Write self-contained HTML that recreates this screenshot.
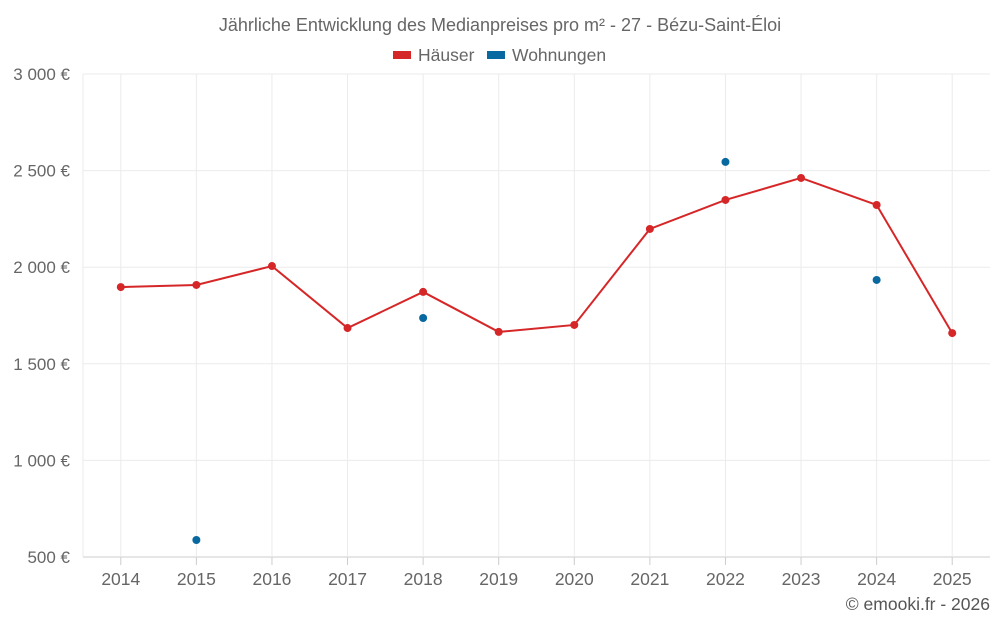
<!DOCTYPE html>
<html><head><meta charset="utf-8"><style>
body{margin:0;background:#fff;font-family:"Liberation Sans",sans-serif}
</style></head><body>
<svg id="c" width="1000" height="625" xmlns="http://www.w3.org/2000/svg"></svg>
<script>
const years=["2014","2015","2016","2017","2018","2019","2020","2021","2022","2023","2024","2025"];
const houses=[1897,1908,2006,1685,1872,1665,1701,2198,2348,2462,2322,1659];
const flats=[null,588,null,null,1737,null,null,null,2545,null,1934,null];
const yTicks=[500,1000,1500,2000,2500,3000];
const yLabels=["500 €","1 000 €","1 500 €","2 000 €","2 500 €","3 000 €"];
const svg=document.getElementById('c');
const NS="http://www.w3.org/2000/svg";
const L=83,R=990,T=74,B=557;
const bw=(R-L)/years.length;
const x=i=>L+(i+0.5)*bw;
const y=v=>B-(v-500)/2500*(B-T);
function mk(t,a,p){const e=document.createElementNS(NS,t);for(const k in a)e.setAttribute(k,a[k]);(p||svg).appendChild(e);return e;}
let g=mk('g',{});


yTicks.forEach((v,i)=>{
 mk('line',{x1:L,x2:R,y1:y(v),y2:y(v),stroke:i==0?'#ccc':'#ebebeb','stroke-width':1},g);
 const t=mk('text',{x:70,y:y(v)+6,'text-anchor':'end','font-size':17,fill:'#666'});
 t.textContent=yLabels[i];
 
 
});
mk('line',{x1:L,x2:L,y1:T,y2:B,stroke:'#ebebeb'},g);
years.forEach((yr,i)=>{
 mk('line',{x1:x(i),x2:x(i),y1:T,y2:B,stroke:'#ebebeb'},g);
 mk('line',{x1:x(i),x2:x(i),y1:B,y2:B+8,stroke:'#ccc'},g);
 const t=mk('text',{x:x(i),y:585,'text-anchor':'middle','font-size':17.5,fill:'#666'});
 t.textContent=yr;
 
 
});
const line=mk('polyline',{points:houses.map((v,i)=>x(i)+','+y(v)).join(' '),fill:'none',stroke:'#d62728','stroke-width':2});


houses.forEach((v,i)=>{
 const c=mk('circle',{cx:x(i),cy:y(v),r:4,fill:'#d62728'});
 
 
});
flats.forEach((v,i)=>{
 if(v==null)return;
 const c=mk('circle',{cx:x(i),cy:y(v),r:4,fill:'#0868a0'});
 
 
});
let t=mk('text',{x:500,y:31,'text-anchor':'middle','font-size':18,fill:'#666'});
t.textContent="Jährliche Entwicklung des Medianpreises pro m² - 27 - Bézu-Saint-Éloi";


let r=mk('rect',{x:393,y:51,width:18,height:8,fill:'#d62728'});


t=mk('text',{x:418,y:61,'font-size':17.5,fill:'#666'});t.textContent="Häuser";


r=mk('rect',{x:487,y:51,width:18,height:8,fill:'#0868a0'});


t=mk('text',{x:512,y:61,'font-size':17.5,fill:'#666'});t.textContent="Wohnungen";


t=mk('text',{x:990,y:610,'text-anchor':'end','font-size':17.5,fill:'#555'});t.textContent="© emooki.fr - 2026";


</script>
</body></html>
